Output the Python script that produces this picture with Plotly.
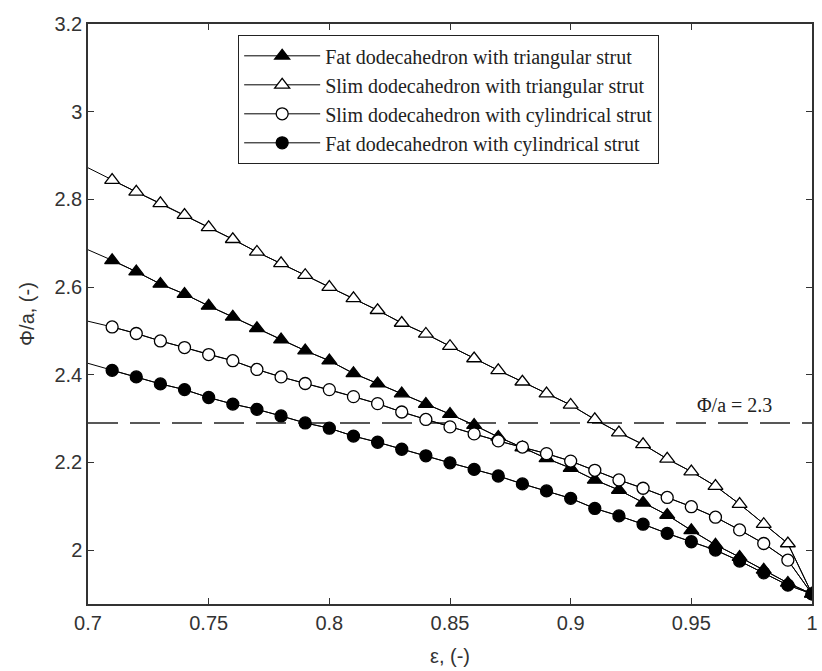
import plotly.graph_objects as go

# x positions of markers (line starts at 0.70)
eps_line_start = 0.70
eps = [0.71, 0.72, 0.73, 0.74, 0.75, 0.76, 0.77, 0.78, 0.79, 0.80,
       0.81, 0.82, 0.83, 0.84, 0.85, 0.86, 0.87, 0.88, 0.89, 0.90,
       0.91, 0.92, 0.93, 0.94, 0.95, 0.96, 0.97, 0.98, 0.99, 1.00]

fat_tri_start = 2.685
fat_tri = [2.661, 2.635, 2.607, 2.584, 2.557, 2.532, 2.506, 2.480, 2.455, 2.432,
           2.403, 2.380, 2.357, 2.333, 2.310, 2.285, 2.258, 2.234, 2.209, 2.187,
           2.160, 2.137, 2.108, 2.080, 2.045, 2.012, 1.984, 1.955, 1.925, 1.900]

slim_tri_start = 2.872
slim_tri = [2.844, 2.817, 2.791, 2.764, 2.736, 2.709, 2.680, 2.654, 2.627, 2.600,
            2.574, 2.547, 2.518, 2.493, 2.465, 2.437, 2.410, 2.384, 2.357, 2.331,
            2.298, 2.268, 2.241, 2.208, 2.179, 2.146, 2.105, 2.059, 2.015, 1.900]

slim_cyl_start = 2.522
slim_cyl = [2.509, 2.494, 2.477, 2.462, 2.446, 2.432, 2.412, 2.395, 2.380, 2.366,
            2.350, 2.334, 2.315, 2.298, 2.281, 2.265, 2.249, 2.235, 2.220, 2.203,
            2.182, 2.160, 2.141, 2.120, 2.099, 2.075, 2.046, 2.015, 1.977, 1.900]

fat_cyl_start = 2.426
fat_cyl = [2.410, 2.395, 2.379, 2.366, 2.348, 2.333, 2.321, 2.306, 2.290, 2.278,
           2.260, 2.246, 2.230, 2.215, 2.199, 2.184, 2.169, 2.151, 2.135, 2.118,
           2.095, 2.078, 2.059, 2.038, 2.019, 2.000, 1.975, 1.948, 1.920, 1.900]

threshold = 2.29
threshold_label = "Φ/a = 2.3"

names = ["Fat dodecahedron with triangular strut",
         "Slim dodecahedron with triangular strut",
         "Slim dodecahedron with cylindrical strut",
         "Fat dodecahedron with cylindrical strut"]

x_ticks = [0.7, 0.75, 0.8, 0.85, 0.9, 0.95, 1.0]
x_ticktext = ["0.7", "0.75", "0.8", "0.85", "0.9", "0.95", "1"]
y_ticks = [2.0, 2.2, 2.4, 2.6, 2.8, 3.0, 3.2]
y_ticktext = ["2", "2.2", "2.4", "2.6", "2.8", "3", "3.2"]

series = [
    (names[0], fat_tri_start, fat_tri, "triangle-up", "black", 13),
    (names[1], slim_tri_start, slim_tri, "triangle-up", "white", 13),
    (names[2], slim_cyl_start, slim_cyl, "circle", "white", 12),
    (names[3], fat_cyl_start, fat_cyl, "circle", "black", 12),
]

fig = go.Figure()

# dashed threshold line
fig.add_trace(go.Scatter(x=[x_ticks[0], x_ticks[-1]], y=[threshold, threshold],
                         mode="lines", line=dict(color="#222", width=1.5, dash="30px,12px"),
                         showlegend=False, hoverinfo="skip"))

for i, (nm, y0, ys, sym, fill, sz) in enumerate(series):
    fig.add_trace(go.Scatter(x=[eps_line_start] + eps, y=[y0] + ys, mode="lines",
                             line=dict(color="black", width=1), showlegend=False,
                             hoverinfo="skip"))
for i, (nm, y0, ys, sym, fill, sz) in enumerate(series):
    fig.add_trace(go.Scatter(x=eps, y=ys, mode="lines+markers", name=nm,
                             legendgroup="g%d" % i,
                             line=dict(color="black", width=1),
                             marker=dict(symbol=sym, size=sz, color=fill,
                                         line=dict(color="black", width=1.3))))

fig.add_annotation(x=0.968, y=2.331, text=threshold_label, showarrow=False,
                   font=dict(family="Liberation Serif", size=20, color="#222"))

axis_common = dict(showline=True, linecolor="#333", linewidth=1.5, mirror="ticks",
                   ticks="inside", ticklen=6, tickwidth=1.2, tickcolor="#333",
                   showgrid=False, zeroline=False,
                   tickfont=dict(family="Liberation Sans", size=20, color="#333"))

fig.update_layout(
    width=822, height=671,
    margin=dict(l=88, r=4, t=24, b=67),
    paper_bgcolor="white", plot_bgcolor="white",
    xaxis=dict(range=[0.7, 1.0], tickvals=x_ticks, ticktext=x_ticktext,
               title=dict(text="ε, (-)", font=dict(family="Liberation Sans", size=20, color="#333"),
                          standoff=16),
               **axis_common),
    yaxis=dict(range=[1.877, 3.2], tickvals=y_ticks, ticktext=y_ticktext,
               title=dict(text="Φ/a, (-)", font=dict(family="Liberation Sans", size=20, color="#333"),
                          standoff=14),
               **axis_common),
    legend=dict(x=0.207, y=0.981, xanchor="left", yanchor="top",
                bgcolor="white", bordercolor="#222", borderwidth=1.3,
                font=dict(family="Liberation Serif", size=20, color="#222"),
                tracegroupgap=0, itemwidth=76),
    showlegend=True,
)

fig.write_html("out.html")
